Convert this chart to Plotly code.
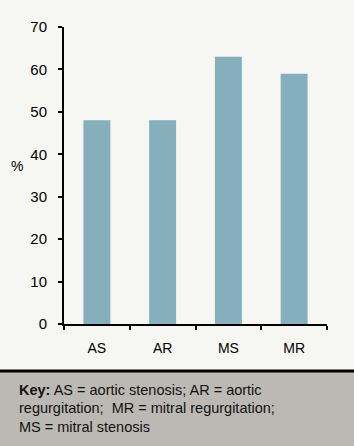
import plotly.graph_objects as go

categories = ["AS", "AR", "MS", "MR"]
values = [48, 48, 63, 59]
y_ticks = [0, 10, 20, 30, 40, 50, 60, 70]
y_label = "%"
key_lines = [
    "<b>Key:</b> AS = aortic stenosis; AR = aortic",
    "regurgitation;  MR = mitral regurgitation;",
    "MS = mitral stenosis",
]

W, H = 354, 446
ML, MR, MT, MB = 64, 27, 27, 122
PW, PH = W - ML - MR, H - MT - MB


def px_x(x):
    return (x - ML) / PW


def px_y(y):
    return (H - MB - y) / PH


BG = "#f6f6f2"
PANEL = "#bcb9b4"
BAR = "#85afbd"
FONT = "Liberation Sans, Arial, sans-serif"

fig = go.Figure(go.Bar(x=categories, y=values, marker=dict(color=BAR, line=dict(width=0))))

fig.update_layout(
    width=W, height=H,
    margin=dict(l=ML, r=MR, t=MT, b=MB, pad=0),
    paper_bgcolor=BG, plot_bgcolor=BG,
    bargap=0.59,
    showlegend=False,
    font=dict(family=FONT, size=14, color="#000"),
)
fig.update_xaxes(
    showline=True, linecolor="#000", linewidth=2,
    ticks="outside", tickson="boundaries", ticklen=4, tickwidth=2, tickcolor="#000",
    showgrid=False, zeroline=False, ticklabelstandoff=10,
    tickfont=dict(size=14, family=FONT),
)
fig.update_yaxes(
    range=[0, 70], tickvals=y_ticks,
    showline=True, linecolor="#000", linewidth=2,
    ticks="outside", ticklen=4, tickwidth=2, tickcolor="#000",
    showgrid=False, zeroline=False, ticklabelstandoff=8,
    tickfont=dict(size=15, family=FONT),
)

shapes = [
    dict(type="rect", xref="paper", yref="paper",
         x0=px_x(0), x1=px_x(W), y0=px_y(372), y1=px_y(H + 2),
         fillcolor=PANEL, line=dict(width=0), layer="below"),
    dict(type="line", xref="paper", yref="paper",
         x0=px_x(0), x1=px_x(W), y0=px_y(371), y1=px_y(371),
         line=dict(color="#000", width=3)),
]
fig.update_layout(shapes=shapes)

annotations = [
    dict(text=y_label, xref="paper", yref="paper", x=px_x(17), y=px_y(166),
         showarrow=False, xanchor="center", yanchor="middle",
         font=dict(size=14, family=FONT)),
]
for i, (line, ypix) in enumerate(zip(key_lines, [390, 408, 427])):
    annotations.append(dict(text=line, xref="paper", yref="paper",
                            x=px_x(17), y=px_y(ypix), showarrow=False,
                            xanchor="left", yanchor="middle",
                            font=dict(size=14.5, family=FONT, color="#111")))
fig.update_layout(annotations=annotations)

fig.write_html("out.html")
